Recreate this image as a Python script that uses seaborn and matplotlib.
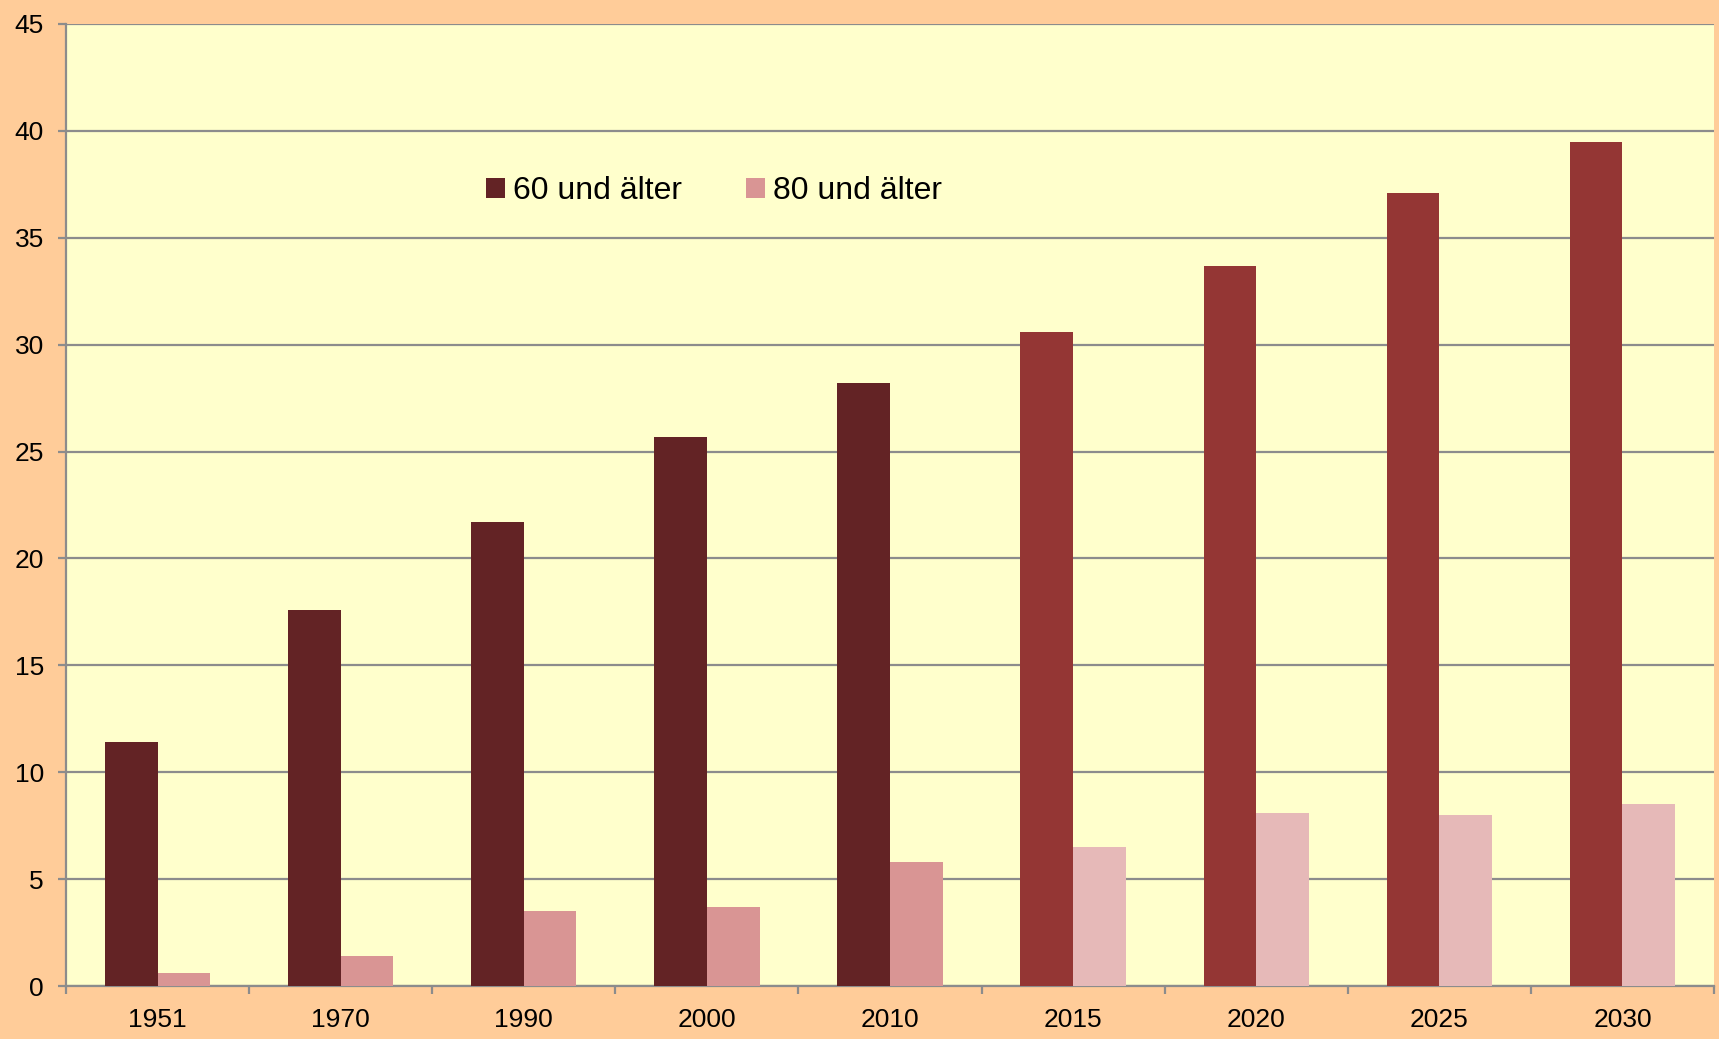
import matplotlib
matplotlib.use("Agg")
import matplotlib.pyplot as plt
from matplotlib.patches import Patch
import seaborn as sns
import pandas as pd
import numpy as np

years = ["1951", "1970", "1990", "2000", "2010", "2015", "2020", "2025", "2030"]
age60 = [11.4, 17.6, 21.7, 25.7, 28.2, 30.6, 33.7, 37.1, 39.5]
age80 = [0.6, 1.4, 3.5, 3.7, 5.8, 6.5, 8.1, 8.0, 8.5]
series_names = ["60 und älter", "80 und älter"]
yticks = [0, 5, 10, 15, 20, 25, 30, 35, 40, 45]

dark60, dark80 = "#632325", "#D99594"
light60, light80 = "#943634", "#E6B9B8"
n_actual = 5  # first five years darker shades

sns.set_theme(style="white")
plt.rcParams['font.family'] = ['Liberation Sans', 'DejaVu Sans']
plt.rcParams['text.color'] = 'black'

df = pd.DataFrame({
    "year": years * 2,
    "value": age60 + age80,
    "series": [series_names[0]] * len(years) + [series_names[1]] * len(years),
})

fig = plt.figure(figsize=(17.19, 10.39), dpi=100, facecolor="#FFCC99")
ax = fig.add_axes([66 / 1719, 1 - 986 / 1039, 1648 / 1719, 962 / 1039])
ax.set_facecolor("#FFFFCC")

sns.barplot(data=df, x="year", y="value", hue="series", order=years,
            hue_order=series_names, width=0.575, ax=ax, legend=False,
            palette=[dark60, dark80], saturation=1, linewidth=0, zorder=3)

# recolor bars: projection years lighter
for container, cols in zip(ax.containers, [(dark60, light60), (dark80, light80)]):
    for i, bar in enumerate(container):
        bar.set_facecolor(cols[0] if i < n_actual else cols[1])
        bar.set_edgecolor("none")

ax.set_xlim(-0.5, len(years) - 0.5)
ax.set_ylim(0, 45)
ax.set_yticks(yticks)
ax.yaxis.grid(True, color="#8C8C8C", linewidth=1.6, zorder=1)
ax.set_axisbelow(True)

for s in ["top", "right"]:
    ax.spines[s].set_visible(False)
for s in ["left", "bottom"]:
    ax.spines[s].set_color("#8C8C8C")
    ax.spines[s].set_linewidth(1.6)

ax.set_xlabel("")
ax.set_ylabel("")
ax.tick_params(axis="y", left=True, length=6, width=1.6, color="#8C8C8C",
               labelsize=19, pad=10, labelcolor="black")
ax.set_xticks(np.arange(-0.5, len(years), 1.0), minor=True)
ax.tick_params(axis="x", which="minor", bottom=True, length=6, width=1.6,
               color="#8C8C8C")
ax.tick_params(axis="x", which="major", bottom=False, length=0,
               labelsize=19, pad=16, labelcolor="black")

handles = [Patch(facecolor=dark60, edgecolor="none"),
           Patch(facecolor=dark80, edgecolor="none")]
ax.legend(handles, series_names, loc="center left",
          bbox_to_anchor=(0.247, 0.826), ncol=2, frameon=False,
          fontsize=23, handlelength=0.6, handleheight=0.6,
          handletextpad=0.25, columnspacing=2.0, borderaxespad=0,
          labelcolor="black")

fig.savefig("out.png", dpi=100, facecolor=fig.get_facecolor())
